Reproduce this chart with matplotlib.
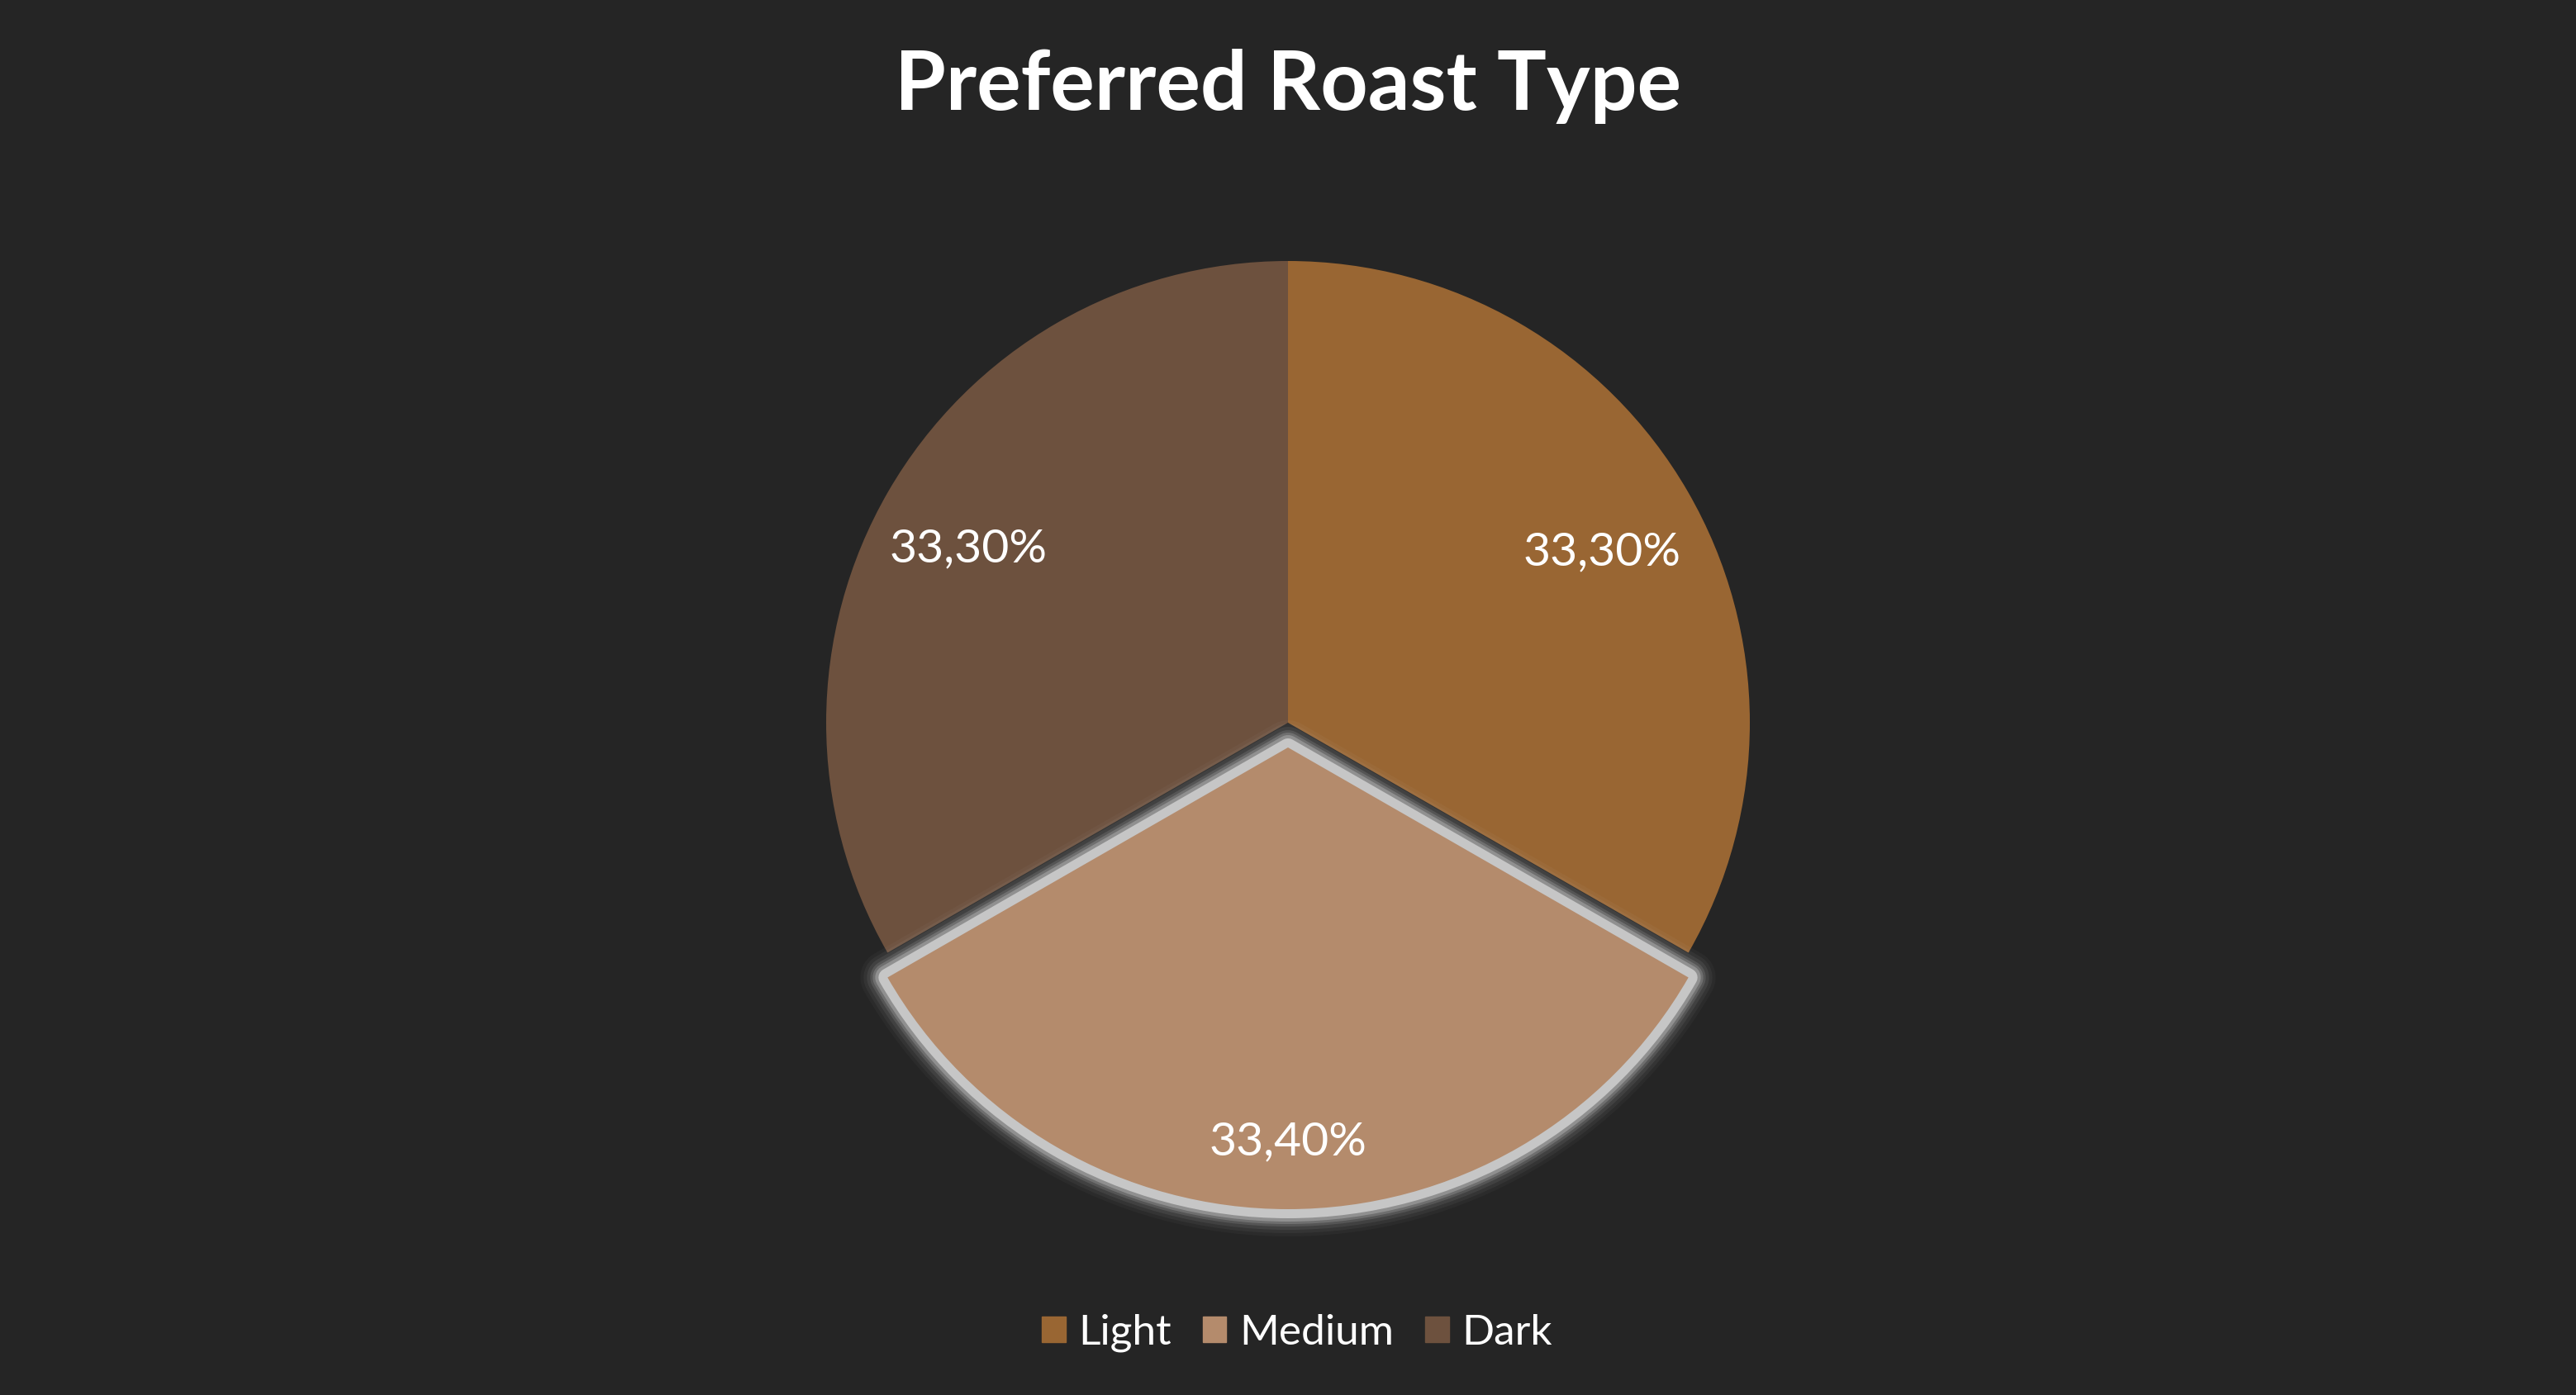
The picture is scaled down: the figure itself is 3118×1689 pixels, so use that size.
import numpy as np
import matplotlib.pyplot as plt
from matplotlib.patches import Wedge

# Datos del gráfico
categorias = ['Light', 'Medium', 'Dark']
valores = [33.3, 33.4, 33.3]
colores = ['#996633', '#B48B6C', '#6D513E']
titulo = 'Preferred Roast Type'

fondo = '#252525'
W, H = 3118, 1689
plt.rcParams['font.family'] = ['Lato', 'DejaVu Sans']

fig = plt.figure(figsize=(W / 100, H / 100), dpi=100, facecolor=fondo)
ax = fig.add_axes([0, 0, 1, 1])
ax.set_facecolor(fondo)

centro = (1559, H - 875)
radio = 559
explode = [0, 30, 0]  # en unidades de datos (píxeles)

wedges, textos, autotextos = ax.pie(
    valores, colors=colores, startangle=90, counterclock=False,
    center=centro, radius=radio, explode=explode, frame=True,
    autopct=lambda p: f'{p:.2f}%'.replace('.', ','),
    textprops=dict(color='white', fontsize=41),
    wedgeprops=dict(linewidth=0))
ax.set_xlim(0, W)
ax.set_ylim(0, H)
ax.set_aspect('equal')
ax.axis('off')

# Posición de las etiquetas de porcentaje
dist = [0.785, 0.83, 0.80]
for w, t, d in zip(wedges, autotextos, dist):
    ang = np.deg2rad((w.theta1 + w.theta2) / 2)
    t.set_position((w.center[0] + d * radio * np.cos(ang),
                    w.center[1] + d * radio * np.sin(ang) - 14))
    t.set_zorder(4)

# Resplandor alrededor de la porción destacada
w = wedges[1]
for lw, alpha in [(66, 0.04), (58, 0.06), (50, 0.09), (42, 0.14), (36, 0.22), (30, 0.35)]:
    g = Wedge(w.center, w.r, w.theta1, w.theta2, facecolor='none',
              edgecolor='#cfcfcf', linewidth=lw * 0.72, alpha=alpha,
              joinstyle='round', zorder=2)
    ax.add_patch(g)
g = Wedge(w.center, w.r, w.theta1, w.theta2, facecolor='none',
          edgecolor='#c6c6c6', linewidth=22 * 0.72, joinstyle='round', zorder=2.5)
ax.add_patch(g)
w.set_zorder(3)

fig.text(0.5, 1 - 105 / H, titulo, color='white', fontsize=72, fontweight='bold',
         ha='center', va='center')

handles = [plt.Rectangle((0, 0), 1, 1, color=c) for c in colores]
leg = fig.legend(handles, categorias, loc='center', bbox_to_anchor=(1570 / W, 1 - 1614 / H),
                 ncol=3, frameon=False, fontsize=37, labelcolor='white',
                 handlelength=0.55, handleheight=0.55, handletextpad=0.3, columnspacing=0.75)

fig.savefig('out.png', dpi=100, facecolor=fondo)
